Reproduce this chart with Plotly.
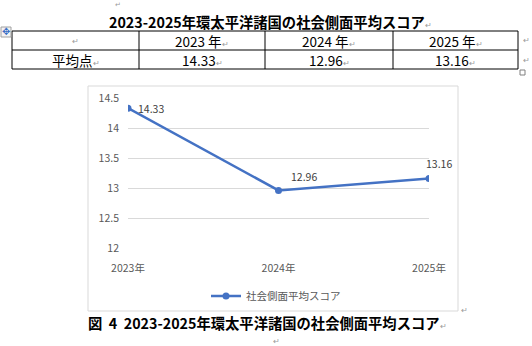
import plotly.graph_objects as go

# Data
years = ["2023年", "2024年", "2025年"]
table_years = ["2023 年", "2024 年", "2025 年"]
scores = [14.33, 12.96, 13.16]
series_name = "社会側面平均スコア"
row_label = "平均点"
title_text = "2023-2025年環太平洋諸国の社会側面平均スコア"
caption_text = "図&nbsp;&nbsp;4&nbsp;&nbsp;2023-2025年環太平洋諸国の社会側面平均スコア"

W, H = 532, 346


def px(x):
    return x / W


def py(y):
    return 1 - y / H


JP = "Noto Sans CJK JP"
MARK = "#9a9a9a"
RET = "↵"

fig = go.Figure()

fig.add_trace(go.Scatter(
    x=list(range(len(years))), y=scores, mode="lines+markers",
    name=series_name,
    line=dict(color="#4472C4", width=2.5),
    marker=dict(color="#4472C4", size=7),
    hoverinfo="skip",
))

shapes = []
annotations = []

# Table grid
tx = [12, 139, 265, 393, 518]
ty = [31, 50, 69]
shapes.append(dict(type="rect", xref="paper", yref="paper",
                   x0=px(tx[0]), x1=px(tx[-1]), y0=py(ty[0]), y1=py(ty[-1]),
                   line=dict(color="black", width=1)))
shapes.append(dict(type="line", xref="paper", yref="paper",
                   x0=px(tx[0]), x1=px(tx[-1]), y0=py(ty[1]), y1=py(ty[1]),
                   line=dict(color="black", width=1)))
for xv in tx[1:-1]:
    shapes.append(dict(type="line", xref="paper", yref="paper",
                       x0=px(xv), x1=px(xv), y0=py(ty[0]), y1=py(ty[-1]),
                       line=dict(color="black", width=1)))


def cell_text(txt, cx, cy, size=13.5):
    annotations.append(dict(
        xref="paper", yref="paper", x=px(cx), y=py(cy),
        text=f"{txt}<span style='color:{MARK};font-size:8px'>{RET}</span>",
        showarrow=False, xanchor="center", yanchor="middle",
        font=dict(family=JP, size=size, color="black")))


def mark(x, y, anchor="center", size=8):
    annotations.append(dict(xref="paper", yref="paper", x=px(x), y=py(y),
                            text=RET, showarrow=False, xanchor=anchor, yanchor="middle",
                            borderpad=0,
                            font=dict(family=JP, size=size, color=MARK)))


centers = [(tx[i] + tx[i + 1]) / 2 for i in range(4)]
mark(centers[0], 40.5)
for i, t in enumerate(table_years):
    cell_text(t, centers[i + 1], 40.5)
cell_text(row_label, centers[0], 59.5)
for i, v in enumerate(scores):
    cell_text(f"{v:.2f}", centers[i + 1], 59.5)

# End-of-row marks and table resize handle
mark(522, 40, "left")
mark(522, 59, "left")
shapes.append(dict(type="rect", xref="paper", yref="paper",
                   x0=px(520), x1=px(525), y0=py(70), y1=py(75),
                   line=dict(color="#808080", width=1), fillcolor="white"))

# Table move handle
shapes.append(dict(type="rect", xref="paper", yref="paper",
                   x0=px(1), x1=px(11), y0=py(27), y1=py(37),
                   line=dict(color="#a0a0a0", width=1), fillcolor="#f4f4f4"))
annotations.append(dict(xref="paper", yref="paper", x=px(6), y=py(32),
                        text="✥", showarrow=False, xanchor="center", yanchor="middle",
                        font=dict(family="DejaVu Sans", size=10, color="#3a6fc4")))

# Paragraph mark at top
mark(118, 3.5, size=7)

# Table title
annotations.append(dict(xref="paper", yref="paper", x=px(108), y=py(21),
                        text=f"<b>{title_text}</b><span style='color:{MARK};font-size:8px'>{RET}</span>",
                        showarrow=False, xanchor="left", yanchor="middle", borderpad=0,
                        font=dict(family=JP, size=14.3, color="black")))

# Chart frame
shapes.append(dict(type="rect", xref="paper", yref="paper",
                   x0=px(88), x1=px(458), y0=py(86), y1=py(311),
                   line=dict(color="#d9d9d9", width=1), layer="below"))
mark(460, 309, "left")

# Caption
annotations.append(dict(xref="paper", yref="paper", x=px(87), y=py(322),
                        text=f"<b>{caption_text}</b><span style='color:{MARK};font-size:8px'>{RET}</span>",
                        showarrow=False, xanchor="left", yanchor="middle", borderpad=0,
                        font=dict(family=JP, size=14.3, color="black")))
mark(276, 340)

# Data labels
label_pos = [
    dict(xanchor="left", yanchor="middle", xshift=8, yshift=0),
    dict(xanchor="left", yanchor="bottom", xshift=10, yshift=4),
    dict(xanchor="center", yanchor="bottom", xshift=10, yshift=5),
]
for i, v in enumerate(scores):
    annotations.append(dict(xref="x", yref="y", x=i, y=v, text=f"{v:.2f}",
                            showarrow=False,
                            font=dict(family=JP, size=10.5, color="#404040"),
                            **label_pos[i]))

fig.update_layout(
    width=W, height=H,
    margin=dict(l=0, r=0, t=0, b=0, autoexpand=False),
    paper_bgcolor="white", plot_bgcolor="white",
    showlegend=True,
    legend=dict(orientation="h", x=px(276), y=py(296), xanchor="center", yanchor="middle",
                font=dict(family=JP, size=10.5, color="#595959"),
                bgcolor="rgba(0,0,0,0)", itemwidth=30),
    xaxis=dict(domain=[px(128), px(429)], range=[0, 2], automargin=False,
               tickvals=list(range(len(years))), ticktext=years,
               showgrid=False, zeroline=False, showline=False, ticks="",
               ticklabelstandoff=12,
               tickfont=dict(family=JP, size=10.5, color="#595959")),
    yaxis=dict(domain=[py(248), py(98)], range=[12, 14.5], dtick=0.5, automargin=False,
               showgrid=True, gridcolor="#d9d9d9", gridwidth=1,
               zeroline=False, showline=False, ticks="",
               ticklabelstandoff=8,
               tickfont=dict(family=JP, size=10.5, color="#595959")),
    shapes=shapes,
    annotations=annotations,
)

fig.write_html("out.html")
